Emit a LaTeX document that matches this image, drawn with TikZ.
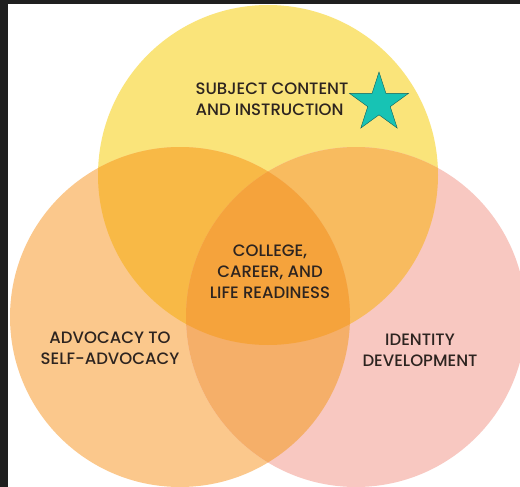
\documentclass[tikz,border=0pt]{standalone}
\usepackage{fontspec}
\setmainfont{Poppins}
\newfontfamily\vennfont{Poppins}[UprightFont=* Medium]
\usetikzlibrary{
    shapes.geometric,
    positioning
}

\definecolor{frameband}{HTML}{1F1F1F}
\definecolor{subjectfill}{RGB}{250,228,122}
\definecolor{advocacyfill}{RGB}{251,200,140}
\definecolor{identityfill}{RGB}{248,200,193}
\definecolor{subjadvfill}{RGB}{248,185,70}
\definecolor{subjidfill}{RGB}{248,187,95}
\definecolor{advidfill}{RGB}{245,175,105}
\definecolor{readyfill}{RGB}{245,163,60}
\definecolor{textdark}{RGB}{45,36,32}
\definecolor{starfill}{RGB}{23,195,180}
\definecolor{staredge}{RGB}{15,95,90}

\begin{document}
\begin{tikzpicture}[
    x=1pt, y=-1pt,
    ring/.style={circle, minimum size=340pt, inner sep=0pt},
    vennlabel/.style={font=\vennfont\fontsize{16.5}{21}\selectfont, text=textdark, inner sep=0pt},
    marker/.style={star, star points=5, star point ratio=2.618, minimum size=62pt,
                   inner sep=0pt, fill=starfill, draw=staredge, thin}
]

    % Canvas and frame
    \useasboundingbox (0,0) rectangle (520,487);
    \fill[white] (0,0) rectangle (520,487);
    \fill[frameband] (0,0) rectangle (8,487);
    \fill[frameband] (0,0) rectangle (520,4);

    % Circles
    \node (subject) [ring, fill=subjectfill] at (268,175) {};
    \node (advocacy) [ring, fill=advocacyfill] at (180,317) {};
    \node (identity) [ring, fill=identityfill] at (356,317) {};

    % Overlaps
    \begin{scope}
        \clip (subject.center) circle[radius=170pt];
        \fill[subjadvfill] (advocacy.center) circle[radius=170pt];
        \fill[subjidfill] (identity.center) circle[radius=170pt];
    \end{scope}
    \begin{scope}
        \clip (advocacy.center) circle[radius=170pt];
        \fill[advidfill] (identity.center) circle[radius=170pt];
    \end{scope}
    \begin{scope}
        \clip (subject.center) circle[radius=170pt];
        \clip (advocacy.center) circle[radius=170pt];
        \fill[readyfill] (identity.center) circle[radius=170pt];
    \end{scope}

    % Labels
    \node (subjecttext) [vennlabel, align=left] at (272,99) {SUBJECT CONTENT\\AND INSTRUCTION};
    \node (star) [marker] at (379,103) {};
    \node (readytext) [vennlabel, align=center] at (270,272) {COLLEGE,\\CAREER, AND\\LIFE READINESS};
    \node (advocacytext) [vennlabel, align=center] at (110,348) {ADVOCACY TO\\SELF-ADVOCACY};
    \node (identitytext) [vennlabel, align=center] at (420,350) {IDENTITY\\DEVELOPMENT};

\end{tikzpicture}
\end{document}
